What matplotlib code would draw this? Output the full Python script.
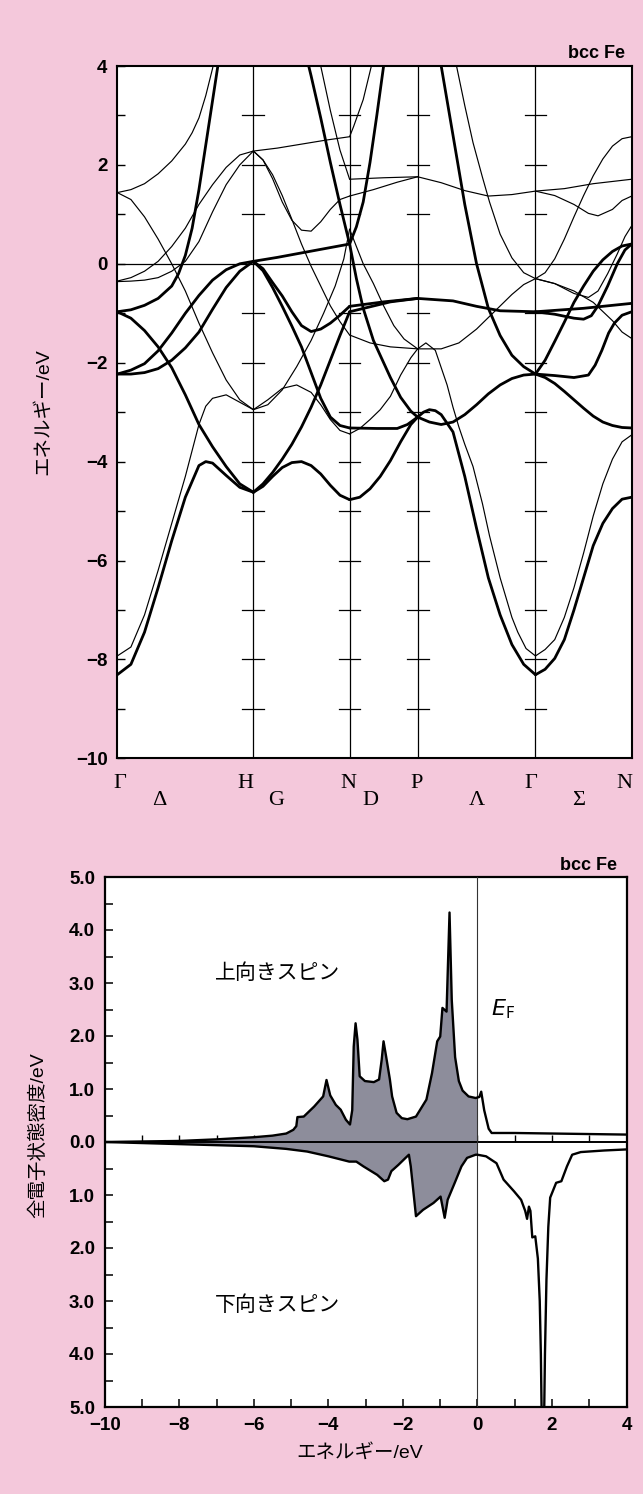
import numpy as np
import matplotlib
matplotlib.use("Agg")
import matplotlib.pyplot as plt
from matplotlib.ticker import MultipleLocator, FuncFormatter

plt.rcParams['font.family'] = ['Liberation Sans', 'Noto Sans CJK JP']

PINK = '#f4c8db'
GREY = '#8d8d9b'
W, H_PX = 643, 1494

# high symmetry points along the path (units of 2pi/a)
kpts = [0.0, 1.0, 1.7071, 2.2071, 3.0731, 3.7802]
klabels = ['Γ', 'H', 'N', 'P', 'Γ', 'N']
klabel_pos = [0.02, 0.94, 1.70, 2.20, 3.04, 3.73]
line_labels = ['Δ', 'G', 'D', 'Λ', 'Σ']
line_label_pos = [0.31, 1.17, 1.86, 2.64, 3.39]

# bands, read off per segment as (fraction along segment, energy eV)
# "up" = majority spin (thick), "dn" = minority spin (thin)
gh_up = [
    [(0, -8.31), (0.1, -8.1), (0.2, -7.45), (0.3, -6.55), (0.4, -5.6), (0.5, -4.72), (0.6, -4.08), (0.65, -4.0), (0.7, -4.03), (0.8, -4.28), (0.9, -4.52), (1, -4.62)],
    [(0, -0.97), (0.1, -1.1), (0.2, -1.35), (0.3, -1.68), (0.4, -2.1), (0.5, -2.65), (0.6, -3.25), (0.7, -3.7), (0.8, -4.1), (0.9, -4.45), (1, -4.62)],
    [(0, -0.97), (0.1, -0.93), (0.2, -0.84), (0.3, -0.7), (0.4, -0.45), (0.45, -0.2), (0.5, 0.17), (0.55, 0.72), (0.6, 1.5), (0.65, 2.4), (0.7, 3.3), (0.75, 4.2), (0.8, 5.1)],
    [(0, -2.23), (0.1, -2.15), (0.2, -2.02), (0.3, -1.76), (0.4, -1.4), (0.5, -1.0), (0.6, -0.64), (0.7, -0.33), (0.8, -0.12), (0.9, 0.0), (1, 0.05)],
    [(0, -2.23), (0.1, -2.23), (0.2, -2.2), (0.3, -2.12), (0.4, -1.95), (0.5, -1.7), (0.6, -1.38), (0.7, -0.92), (0.8, -0.48), (0.9, -0.15), (1, 0.05)],
]
gh_dn = [
    [(0, -7.93), (0.1, -7.75), (0.2, -7.1), (0.3, -6.2), (0.4, -5.25), (0.5, -4.3), (0.6, -3.25), (0.65, -2.88), (0.7, -2.72), (0.8, -2.65), (0.9, -2.8), (1, -2.95)],
    [(0, 1.44), (0.1, 1.3), (0.2, 0.95), (0.3, 0.5), (0.4, 0.0), (0.5, -0.55), (0.6, -1.2), (0.7, -1.8), (0.8, -2.35), (0.9, -2.75), (1, -2.95)],
    [(0, 1.44), (0.1, 1.5), (0.2, 1.62), (0.3, 1.82), (0.4, 2.08), (0.5, 2.42), (0.55, 2.65), (0.6, 2.95), (0.65, 3.4), (0.7, 3.95), (0.75, 4.6)],
    [(0, -0.35), (0.1, -0.28), (0.2, -0.15), (0.3, 0.05), (0.4, 0.35), (0.5, 0.72), (0.6, 1.2), (0.7, 1.6), (0.8, 1.95), (0.9, 2.2), (1, 2.28)],
    [(0, -0.36), (0.1, -0.35), (0.2, -0.33), (0.3, -0.28), (0.4, -0.15), (0.5, 0.05), (0.6, 0.45), (0.7, 1.05), (0.8, 1.6), (0.9, 2.0), (1, 2.28)],
]
hn_up = [
    [(0, 0.05), (0.25, 0.13), (0.5, 0.22), (0.75, 0.31), (1, 0.40)],
    [(0, 0.05), (0.1, -0.1), (0.2, -0.38), (0.3, -0.65), (0.4, -0.97), (0.5, -1.25), (0.6, -1.37), (0.7, -1.32), (0.8, -1.2), (0.9, -1.04), (1, -0.86)],
    [(0, 0.05), (0.1, -0.14), (0.2, -0.48), (0.3, -0.86), (0.4, -1.26), (0.5, -1.68), (0.6, -2.2), (0.7, -2.72), (0.8, -3.1), (0.9, -3.27), (1, -3.32)],
    [(0, -4.62), (0.1, -4.45), (0.2, -4.22), (0.3, -3.95), (0.4, -3.65), (0.5, -3.3), (0.6, -2.9), (0.7, -2.45), (0.8, -1.95), (0.9, -1.45), (1, -0.97)],
    [(0, -4.62), (0.1, -4.5), (0.2, -4.3), (0.3, -4.12), (0.4, -4.02), (0.5, -4.0), (0.6, -4.08), (0.7, -4.25), (0.8, -4.48), (0.9, -4.68), (1, -4.77)],
    [(0.5, 4.6), (0.6, 3.8), (0.7, 2.95), (0.8, 2.05), (0.9, 1.2), (1, 0.40)],
]
hn_dn = [
    [(0, 2.28), (0.25, 2.34), (0.5, 2.42), (0.75, 2.5), (1, 2.57)],
    [(0, 2.28), (0.1, 2.1), (0.2, 1.72), (0.3, 1.25), (0.4, 0.88), (0.5, 0.68), (0.6, 0.66), (0.7, 0.85), (0.8, 1.1), (0.9, 1.3), (1, 1.37)],
    [(0.6, 4.7), (0.7, 4.0), (0.8, 3.1), (0.9, 2.3), (1, 1.71)],
    [(0, -2.95), (0.15, -2.85), (0.3, -2.55), (0.45, -2.08), (0.6, -1.55), (0.73, -1.0), (0.85, -0.45), (0.94, 0.1), (1, 0.7)],
    [(0, -2.95), (0.15, -2.75), (0.3, -2.52), (0.45, -2.45), (0.6, -2.6), (0.7, -2.85), (0.8, -3.15), (0.9, -3.37), (1, -3.44)],
    [(0, 2.28), (0.1, 2.1), (0.2, 1.8), (0.3, 1.38), (0.4, 0.9), (0.5, 0.4), (0.6, -0.05), (0.7, -0.45), (0.8, -0.85), (0.9, -1.17), (1, -1.44)],
]
np_up = [
    [(0, -4.77), (0.15, -4.72), (0.3, -4.55), (0.45, -4.3), (0.6, -3.98), (0.75, -3.6), (0.9, -3.25), (1, -3.1)],
    [(0, -3.32), (0.4, -3.33), (0.7, -3.33), (0.85, -3.25), (1, -3.1)],
    [(0, 0.4), (0.1, -0.3), (0.2, -0.9), (0.35, -1.55), (0.5, -2.0), (0.6, -2.3), (0.75, -2.7), (0.9, -2.98), (1, -3.1)],
    [(0, 0.4), (0.1, 0.75), (0.2, 1.25), (0.3, 2.05), (0.4, 3.0), (0.5, 4.0), (0.6, 5.0)],
    [(0, -0.86), (0.5, -0.77), (1, -0.70)],
    [(0, -0.97), (0.3, -0.87), (0.6, -0.77), (1, -0.70)],
]
np_dn = [
    [(0, 2.57), (0.06, 2.78), (0.2, 3.32), (0.32, 4.0), (0.42, 4.7)],
    [(0, 1.71), (0.5, 1.74), (1, 1.76)],
    [(0, 1.37), (0.35, 1.5), (0.7, 1.65), (1, 1.76)],
    [(0, -1.44), (0.3, -1.6), (0.6, -1.68), (1, -1.72)],
    [(0, -3.44), (0.15, -3.33), (0.3, -3.15), (0.45, -2.95), (0.6, -2.68), (0.75, -2.25), (0.9, -1.9), (1, -1.72)],
    [(0, 0.7), (0.1, 0.35), (0.2, 0.0), (0.35, -0.4), (0.5, -0.85), (0.65, -1.25), (0.8, -1.52), (1, -1.72)],
]
pg_up = [
    [(0, -0.70), (0.3, -0.75), (0.5, -0.86), (0.7, -0.95), (1, -0.97)],
    [(0.15, 4.6), (0.2, 4.0), (0.3, 2.6), (0.4, 1.2), (0.5, 0.0), (0.6, -0.9), (0.7, -1.45), (0.8, -1.85), (0.9, -2.08), (1, -2.23)],
    [(0, -3.1), (0.1, -3.2), (0.2, -3.25), (0.3, -3.2), (0.4, -3.05), (0.5, -2.85), (0.6, -2.63), (0.7, -2.45), (0.8, -2.32), (0.9, -2.25), (1, -2.23)],
    [(0, -3.1), (0.05, -3.0), (0.1, -2.95), (0.15, -2.97), (0.2, -3.05), (0.3, -3.4), (0.4, -4.3), (0.5, -5.35), (0.6, -6.35), (0.7, -7.1), (0.8, -7.7), (0.9, -8.1), (1, -8.31)],
]
pg_dn = [
    [(0, 1.76), (0.2, 1.64), (0.4, 1.48), (0.6, 1.37), (0.8, 1.4), (1, 1.47)],
    [(0.25, 4.6), (0.33, 4.0), (0.4, 3.2), (0.47, 2.45), (0.55, 1.75), (0.61, 1.25), (0.7, 0.6), (0.8, 0.12), (0.9, -0.18), (1, -0.30)],
    [(0, -1.72), (0.2, -1.72), (0.35, -1.6), (0.5, -1.32), (0.65, -0.97), (0.8, -0.62), (0.9, -0.42), (1, -0.30)],
    [(0, -1.72), (0.07, -1.6), (0.15, -1.75), (0.25, -2.45), (0.3, -2.9), (0.35, -3.3), (0.4, -3.65), (0.47, -4.1), (0.55, -4.85), (0.61, -5.5), (0.7, -6.35), (0.75, -6.75), (0.8, -7.15), (0.85, -7.45), (0.92, -7.78), (1, -7.93)],
]
gn_up = [
    [(0, -0.97), (0.5, -0.9), (1, -0.80)],
    [(0, -0.97), (0.2, -1.02), (0.4, -1.1), (0.5, -1.12), (0.58, -1.05), (0.65, -0.85), (0.75, -0.45), (0.85, 0.0), (0.93, 0.28), (1, 0.40)],
    [(0, -2.23), (0.1, -1.95), (0.2, -1.57), (0.3, -1.18), (0.4, -0.78), (0.5, -0.45), (0.6, -0.15), (0.7, 0.08), (0.8, 0.25), (0.9, 0.36), (1, 0.40)],
    [(0, -2.23), (0.2, -2.26), (0.4, -2.3), (0.55, -2.25), (0.62, -2.05), (0.69, -1.75), (0.76, -1.4), (0.82, -1.2), (0.9, -1.04), (1, -0.97)],
    [(0, -2.23), (0.1, -2.3), (0.2, -2.42), (0.3, -2.58), (0.4, -2.75), (0.5, -2.92), (0.6, -3.08), (0.7, -3.2), (0.8, -3.27), (0.9, -3.31), (1, -3.32)],
    [(0, -8.31), (0.1, -8.2), (0.2, -7.98), (0.3, -7.6), (0.4, -7.0), (0.5, -6.35), (0.6, -5.7), (0.7, -5.25), (0.8, -4.95), (0.9, -4.76), (1, -4.72)],
]
gn_dn = [
    [(0, 1.47), (0.3, 1.52), (0.6, 1.62), (1, 1.71)],
    [(0, 1.47), (0.2, 1.38), (0.4, 1.2), (0.55, 1.02), (0.65, 0.97), (0.8, 1.1), (0.9, 1.28), (1, 1.37)],
    [(0, -0.3), (0.1, -0.18), (0.2, 0.1), (0.3, 0.5), (0.4, 0.95), (0.5, 1.38), (0.6, 1.78), (0.7, 2.12), (0.8, 2.38), (0.9, 2.53), (1, 2.57)],
    [(0, -0.3), (0.2, -0.4), (0.4, -0.6), (0.55, -0.68), (0.65, -0.55), (0.75, -0.2), (0.85, 0.2), (0.93, 0.55), (1, 0.77)],
    [(0, -0.3), (0.2, -0.4), (0.4, -0.55), (0.6, -0.78), (0.8, -1.15), (0.9, -1.38), (1, -1.51)],
    [(0, -7.93), (0.1, -7.8), (0.2, -7.6), (0.3, -7.15), (0.4, -6.55), (0.5, -5.85), (0.6, -5.1), (0.7, -4.45), (0.8, -3.95), (0.9, -3.6), (1, -3.46)],
]

# total density of states (per eV), up spin positive, down spin negative
dos_e_up = [-10, -9, -8, -7, -6, -5.5, -5.13, -4.94, -4.86, -4.83, -4.66, -4.38, -4.14, -4.05,
            -3.95, -3.8, -3.67, -3.53, -3.42, -3.36, -3.32, -3.27, -3.22, -3.16, -3.02, -2.78,
            -2.64, -2.57, -2.52, -2.45, -2.35, -2.29, -2.17, -2.03, -1.88, -1.65, -1.37, -1.22,
            -1.08, -1.0, -0.94, -0.83, -0.75, -0.69, -0.6, -0.5, -0.4, -0.24, -0.05, 0.0, 0.05,
            0.10, 0.18, 0.3, 0.38, 1.0, 2.0, 3.0, 4.0]
dos_up = [0.0, 0.01, 0.02, 0.05, 0.09, 0.12, 0.16, 0.23, 0.3, 0.47, 0.48, 0.67, 0.86, 1.17,
          0.88, 0.7, 0.61, 0.42, 0.33, 0.6, 1.8, 2.24, 1.93, 1.24, 1.15, 1.13,
          1.18, 1.55, 1.9, 1.61, 1.18, 0.86, 0.55, 0.45, 0.43, 0.48, 0.8, 1.3,
          1.9, 1.99, 2.53, 2.46, 4.33, 2.68, 1.6, 1.15, 0.97, 0.86, 0.83, 0.84, 0.85,
          0.95, 0.6, 0.25, 0.17, 0.17, 0.16, 0.15, 0.14]
dos_e_dn = [-10, -9, -8, -7, -6, -5.13, -4.57, -4.0, -3.44, -3.25, -3.06, -2.69, -2.5, -2.4,
            -2.31, -2.12, -1.93, -1.84, -1.79, -1.65, -1.46, -1.18, -0.99, -0.88, -0.8, -0.61,
            -0.43, -0.28, -0.05, 0.0, 0.23, 0.51, 0.7, 0.98, 1.17, 1.28, 1.33, 1.38, 1.42, 1.47,
            1.55, 1.62, 1.67, 1.70, 1.73, 1.78, 1.81, 1.85, 1.9, 1.95, 2.11, 2.25, 2.4, 2.54,
            2.77, 3.4, 4.0]
dos_dn = [0.0, -0.02, -0.04, -0.06, -0.08, -0.13, -0.18, -0.27, -0.37, -0.37, -0.46, -0.62, -0.74, -0.71,
          -0.55, -0.43, -0.30, -0.24, -0.46, -1.40, -1.28, -1.15, -1.03, -1.43, -1.09, -0.77,
          -0.46, -0.30, -0.24, -0.24, -0.27, -0.40, -0.71, -0.93, -1.09, -1.3, -1.45, -1.22, -1.3, -1.8,
          -1.78, -2.2, -3.0, -4.0, -5.6, -5.6, -4.0, -2.6, -1.6, -1.05, -0.77, -0.74, -0.46, -0.24,
          -0.19, -0.16, -0.14]


def px(x, y):
    return x / W, 1 - y / H_PX


fig = plt.figure(figsize=(W / 100, H_PX / 100), dpi=100, facecolor=PINK)

# ---------------- band structure ----------------
ax1 = fig.add_axes([117.3 / W, 1 - 758.3 / H_PX, (631.7 - 117.3) / W, (758.3 - 66) / H_PX])
ax1.set_facecolor('white')
ax1.set_xlim(kpts[0], kpts[-1])
ax1.set_ylim(-10, 4)

segments = [(gh_up, gh_dn), (hn_up, hn_dn), (np_up, np_dn), (pg_up, pg_dn), (gn_up, gn_dn)]
for i, (maj, mino) in enumerate(segments):
    k0, k1 = kpts[i], kpts[i + 1]
    for curves, lw in ((mino, 0.85), (maj, 2.0)):
        for c in curves:
            t = np.array([p[0] for p in c])
            e = np.array([p[1] for p in c])
            ax1.plot(k0 + t * (k1 - k0), e, color='black', lw=lw,
                     solid_joinstyle='round', solid_capstyle='round')

for k in kpts[1:-1]:
    ax1.axvline(k, color='black', lw=0.9)
    for e in range(-9, 4):
        if e != 0:
            ax1.plot([k - 0.08, k + 0.08], [e, e], color='black', lw=0.9)
ax1.axhline(0, color='black', lw=0.9)

ax1.set_xticks([])
ax1.yaxis.set_major_locator(MultipleLocator(2))
ax1.yaxis.set_minor_locator(MultipleLocator(1))
ax1.tick_params(axis='y', which='both', direction='in', length=6, width=1.0,
                labelsize=13.5, pad=7)
for lab in ax1.get_yticklabels():
    lab.set_fontweight('bold')
for s in ax1.spines.values():
    s.set_linewidth(1.5)

for lab, k in zip(klabels, klabel_pos):
    ax1.text(k, -0.036, lab, transform=ax1.get_xaxis_transform(), ha='center', va='center',
             fontsize=16, family='Liberation Serif')
for lab, k in zip(line_labels, line_label_pos):
    ax1.text(k, -0.061, lab, transform=ax1.get_xaxis_transform(), ha='center', va='center',
             fontsize=16, family='Liberation Serif')

fig.text(*px(625, 58), 'bcc Fe', ha='right', va='baseline', fontsize=13, fontweight='bold')
fig.text(*px(43, 412), 'エネルギー/eV', rotation=90, ha='center', va='center', fontsize=14)

# ---------------- density of states ----------------
ax2 = fig.add_axes([104.7 / W, 1 - 1407 / H_PX, (626.6 - 104.7) / W, (1407 - 877) / H_PX])
ax2.set_facecolor('white')
ax2.set_xlim(-10, 4)
ax2.set_ylim(-5, 5)

e_up = np.array(dos_e_up)
d_up = np.array(dos_up)
e_dn = np.array(dos_e_dn)
d_dn = np.array(dos_dn)
m_up = e_up <= 0
m_dn = e_dn <= 0
ax2.fill(np.concatenate([e_up[m_up], e_dn[m_dn][::-1]]),
         np.concatenate([d_up[m_up], d_dn[m_dn][::-1]]),
         color=GREY, lw=0, zorder=2)
ax2.vlines(np.arange(-9, 4), 0, 0.13, color='black', lw=1.0, zorder=1)
ax2.axhline(0, color='black', lw=1.4, zorder=3)
ax2.axvline(0, color='#333333', lw=0.8, zorder=3)
ax2.plot(e_up, d_up, color='black', lw=1.7, zorder=4, solid_joinstyle='round')
ax2.plot(e_dn, d_dn, color='black', lw=1.7, zorder=4, solid_joinstyle='round')

ax2.xaxis.set_major_locator(MultipleLocator(2))
ax2.xaxis.set_minor_locator(MultipleLocator(1))
ax2.yaxis.set_major_locator(MultipleLocator(1))
ax2.yaxis.set_minor_locator(MultipleLocator(0.5))
ax2.yaxis.set_major_formatter(FuncFormatter(lambda v, _: f'{abs(v):.1f}'))
ax2.tick_params(which='both', direction='in', length=6, width=1.1, labelsize=13.5,
                top=False, right=False)
ax2.tick_params(axis='y', pad=7)
ax2.tick_params(axis='x', pad=7)
for lab in ax2.get_xticklabels() + ax2.get_yticklabels():
    lab.set_fontweight('bold')
for s in ax2.spines.values():
    s.set_linewidth(1.6)

ax2.text(-5.36, 3.19, '上向きスピン', ha='center', va='center', fontsize=15)
ax2.text(-5.36, -3.07, '下向きスピン', ha='center', va='center', fontsize=15)
ax2.text(0.68, 2.5, r'$E_{\mathrm{F}}$', ha='center', va='center', fontsize=16)

fig.text(*px(617, 870), 'bcc Fe', ha='right', va='baseline', fontsize=13, fontweight='bold')
fig.text(*px(38, 1135), '全電子状態密度/eV', rotation=90, ha='center', va='center', fontsize=14)
fig.text(*px(360, 1453), 'エネルギー/eV', ha='center', va='center', fontsize=14)

fig.savefig('out.png', dpi=100, facecolor=PINK)
